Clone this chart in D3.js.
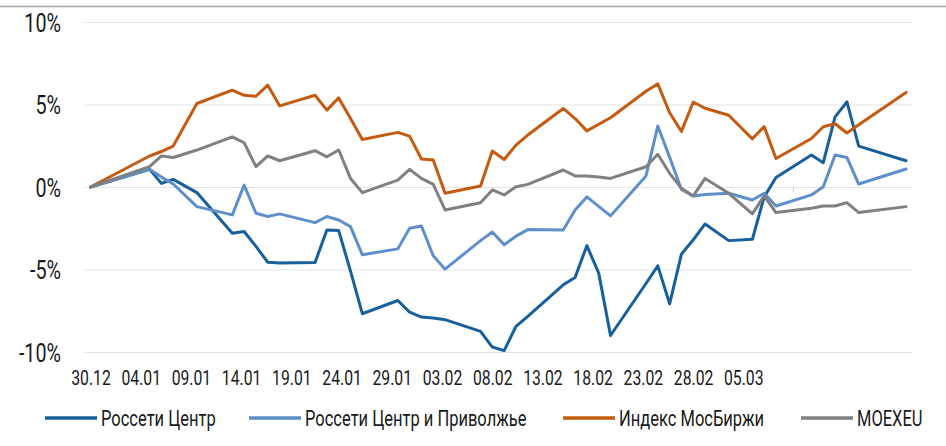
<!DOCTYPE html>
<html>
<head>
<meta charset="utf-8">
<script src="https://cdn.jsdelivr.net/npm/d3@7"></script>
<style>
  body { margin: 0; background: #fff; }
  text { font-family: Roboto, "Liberation Sans", sans-serif; fill: #1a1a1a; }
</style>
</head>
<body>
<svg id="chart" width="946" height="446"></svg>
<script>
// trading days, 30.12.2020 - 09.03.2021
const dates = [
  "30.12.2020", "04.01.2021", "05.01.2021", "06.01.2021", "08.01.2021",
  "11.01.2021", "12.01.2021", "13.01.2021", "14.01.2021", "15.01.2021",
  "18.01.2021", "19.01.2021", "20.01.2021", "21.01.2021", "22.01.2021",
  "25.01.2021", "26.01.2021", "27.01.2021", "28.01.2021", "29.01.2021",
  "01.02.2021", "02.02.2021", "03.02.2021", "04.02.2021", "05.02.2021",
  "08.02.2021", "09.02.2021", "10.02.2021", "11.02.2021", "12.02.2021",
  "15.02.2021", "16.02.2021", "17.02.2021", "18.02.2021", "19.02.2021",
  "20.02.2021", "22.02.2021", "24.02.2021", "25.02.2021", "26.02.2021",
  "01.03.2021", "02.03.2021", "03.03.2021", "04.03.2021", "05.03.2021",
  "09.03.2021"
];

// % change from 30.12
const rossetiCentr = [
  0, 1.07, 0.22, 0.46, -0.34,
  -2.8, -2.7, -3.6, -4.56, -4.6,
  -4.58, -2.6, -2.64, -5.1, -7.68,
  -6.88, -7.58, -7.88, -7.94, -8.04,
  -8.75, -9.7, -9.92, -8.45, -7.84,
  -5.93, -5.48, -3.55, -5.22, -9.0,
  -5.85, -4.78, -7.08, -4.07, -3.2,
  -2.24, -3.25, -3.17, -0.6, 0.58,
  1.94, 1.47, 4.25, 5.16, 2.48,
  1.59
];

const rossetiCentrPrivolzhye = [
  0, 1.07, 0.6, 0.18, -1.19,
  -1.69, 0.12, -1.59, -1.79, -1.63,
  -2.16, -1.79, -2.0, -2.4, -4.11,
  -3.75, -2.5, -2.36, -4.17, -4.98,
  -3.25, -2.73, -3.5, -2.98, -2.58,
  -2.6, -1.4, -0.6, -1.17, -1.75,
  0.67, 3.69, 1.8, -0.15, -0.55,
  -0.45, -0.38, -0.79, -0.38, -1.15,
  -0.48, 0.02, 1.94, 1.79, 0.18,
  1.09
];

const moexIndex = [
  0, 1.88, 2.15, 2.48, 5.06,
  5.87, 5.56, 5.5, 6.17, 4.92,
  5.56, 4.66, 5.4, 4.15, 2.88,
  3.31, 3.08, 1.7, 1.63, -0.38,
  0.06, 2.18, 1.67, 2.54, 3.15,
  4.76, 4.15, 3.4, 3.8, 4.2,
  5.8, 6.25, 4.5, 3.37, 5.15,
  4.77, 4.35, 2.92, 3.66, 1.73,
  2.94, 3.65, 3.83, 3.27, 3.77,
  5.73
];

const moexeu = [
  0, 1.23, 1.88, 1.79, 2.24,
  3.04, 2.68, 1.23, 1.88, 1.59,
  2.2, 1.83, 2.24, 0.52, -0.34,
  0.42, 1.07, 0.52, 0.16, -1.39,
  -0.95, -0.18, -0.48, 0.02, 0.16,
  1.03, 0.67, 0.67, 0.6, 0.52,
  1.23, 1.98, 0.83, -0.08, -0.54,
  0.52, -0.38, -1.63, -0.54, -1.55,
  -1.29, -1.15, -1.15, -0.95, -1.55,
  -1.19
];

const seriesNames = ["Россети Центр", "Россети Центр и Приволжье", "Индекс МосБиржи", "MOEXEU"];
const seriesColors = ["#17609b", "#5f8fca", "#c55a11", "#808080"];
const tickLabels = ["30.12", "04.01", "09.01", "14.01", "19.01", "24.01", "29.01",
  "03.02", "08.02", "13.02", "18.02", "23.02", "28.02", "05.03"];
const yTicks = [-10, -5, 0, 5, 10];

const squeeze = 0.75; // narrow font look

function drawLineChart() {
  const svg = d3.select("#chart"),
    plot = { left: 85, right: 912, top: 22, bottom: 352 };

  const parseDate = d3.timeParse("%d.%m.%Y");
  const days = dates.map(parseDate);

  const x = d3.scaleTime().domain(d3.extent(days)).range([90.5, 906]);
  const y = d3.scaleLinear().domain([-10, 10]).range([plot.bottom, plot.top]);
  const labelX = d3.scaleLinear().domain([0, tickLabels.length]).range([90.5, 793.5]);

  // top rule
  svg.append("line")
    .attr("x1", 0).attr("x2", 946)
    .attr("y1", 6.5).attr("y2", 6.5)
    .attr("stroke", "#a8a8a8")
    .attr("stroke-width", 1.5);

  // y axis + grid
  const ySq = 0.79;
  const yAxis = svg.append("g")
    .attr("transform", `translate(${plot.left},0)`)
    .call(d3.axisLeft(y)
      .tickValues(yTicks)
      .tickSize(-(plot.right - plot.left))
      .tickFormat(d => d + "%"));
  yAxis.select(".domain").remove();
  yAxis.selectAll(".tick line").attr("stroke", "#e3e3e3").attr("stroke-width", 1.2);
  yAxis.selectAll(".tick text")
    .attr("x", -24 / ySq)
    .attr("dy", "0.36em")
    .attr("transform", `scale(${ySq},1)`)
    .style("font-size", "25px")
    .style("font-family", "Roboto")
    .attr("fill", "#1a1a1a");

  // x labels
  const xAxis = svg.append("g")
    .attr("transform", "translate(0,370)")
    .call(d3.axisBottom(labelX)
      .tickValues(d3.range(tickLabels.length))
      .tickSize(0)
      .tickFormat(i => tickLabels[i]));
  xAxis.select(".domain").remove();
  xAxis.selectAll(".tick text")
    .attr("y", 0)
    .attr("x", 0)
    .attr("dy", "0.72em")
    .attr("transform", `scale(${squeeze},1)`)
    .style("font-size", "21px")
    .style("font-family", "Roboto")
    .attr("fill", "#1a1a1a");

  svg.append("line")
    .attr("x1", labelX(tickLabels.length)).attr("x2", labelX(tickLabels.length))
    .attr("y1", y(0)).attr("y2", y(0) + 5)
    .attr("stroke", "#d0d0d0");

  const allSeries = [rossetiCentr, rossetiCentrPrivolzhye, moexIndex, moexeu];

  const line = d3.line()
    .x((d, i) => x(days[i]))
    .y(d => y(d));

  allSeries.forEach((vals, k) => {
    svg.append("path")
      .datum(vals)
      .attr("fill", "none")
      .attr("stroke", seriesColors[k])
      .attr("stroke-width", 3)
      .attr("stroke-linejoin", "round")
      .attr("stroke-linecap", "round")
      .attr("d", line);
  });

  // legend
  const legendX = [45, 249, 563, 801];
  const legend = svg.append("g").attr("transform", "translate(0,418)");
  seriesNames.forEach((name, k) => {
    legend.append("line")
      .attr("x1", legendX[k]).attr("x2", legendX[k] + 52)
      .attr("stroke", seriesColors[k])
      .attr("stroke-width", 3.5);
    legend.append("text")
      .attr("transform", `translate(${legendX[k] + 56},0) scale(${squeeze},1)`)
      .attr("dy", "0.36em")
      .style("font-size", "22px")
      .text(name);
  });
}

drawLineChart();
</script>
</body>
</html>
